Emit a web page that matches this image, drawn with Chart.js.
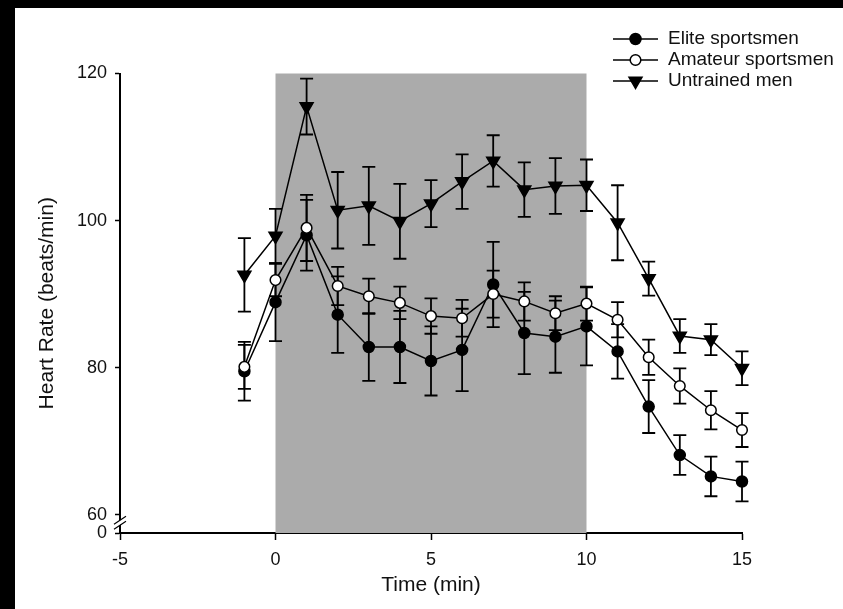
<!DOCTYPE html>
<html>
<head>
<meta charset="utf-8">
<script src="https://cdn.jsdelivr.net/npm/chart.js@4/dist/chart.umd.min.js"></script>
<style>
  html, body { margin: 0; padding: 0; background: #000; overflow: hidden; }
  #wrap { position: absolute; left: 15px; top: 8px; width: 828px; height: 601px; background: #fff; overflow: hidden; }
  #chart { display: block; }
</style>
</head>
<body>
<div id="wrap"><canvas id="chart" width="828" height="601"></canvas></div>
<script>
// time points (min), exercise runs from 0 to 10
const times = [-1, 0, 1, 2, 3, 4, 5, 6, 7, 8, 9, 10, 11, 12, 13, 14, 15]

const eliteMean = [79.5, 88.9, 98.0, 87.2, 82.8, 82.8, 80.9, 82.4, 91.3, 84.7, 84.2, 85.6, 82.2, 74.7, 68.1, 65.2, 64.5]
const eliteErr = [4.0, 5.3, 4.8, 5.2, 4.6, 4.9, 4.7, 5.6, 5.8, 5.6, 4.9, 5.3, 3.7, 3.6, 2.7, 2.7, 2.7]

const amateurMean = [80.1, 91.9, 99.0, 91.1, 89.7, 88.8, 87.0, 86.7, 90.0, 89.0, 87.4, 88.7, 86.5, 81.4, 77.5, 74.2, 71.5]
const amateurErr = [3.0, 2.2, 4.5, 2.6, 2.4, 2.2, 2.4, 2.5, 3.2, 2.6, 2.3, 2.3, 2.4, 2.4, 2.4, 2.6, 2.3]

const untrainedMean = [92.6, 97.9, 115.5, 101.4, 102.0, 99.9, 102.3, 105.3, 108.1, 104.2, 104.7, 104.8, 99.7, 92.1, 84.3, 83.8, 79.9]
const untrainedErr = [5.0, 3.7, 3.8, 5.2, 5.3, 5.1, 3.2, 3.7, 3.5, 3.7, 3.8, 3.5, 5.1, 2.3, 2.3, 2.1, 2.3]

const seriesNames = ['Elite sportsmen', 'Amateur sportsmen', 'Untrained men']

const xTicks = [-5, 0, 5, 10, 15]
// y axis is broken: the bottom tick stands for 0
const yTicks = [57.5, 60, 80, 100, 120]
const yTickLabels = ['0', '60', '80', '100', '120']

const exerciseStart = 0
const exerciseEnd = 10

Chart.defaults.font.family = '"Liberation Sans", Arial, sans-serif'
Chart.defaults.color = '#111'

function toPoints(means) {
    return times.map((t, i) => ({x: t, y: means[i]}))
}

function drawMarker(ctx, style, x, y) {
    ctx.save()
    ctx.lineWidth = 1.5
    ctx.strokeStyle = '#000'
    ctx.fillStyle = style.fill
    ctx.beginPath()
    if (style.shape === 'triangle') {
        const r = style.radius
        ctx.moveTo(x, y + r)
        ctx.lineTo(x - r * 0.866, y - r * 0.5)
        ctx.lineTo(x + r * 0.866, y - r * 0.5)
        ctx.closePath()
    } else {
        ctx.arc(x, y, style.radius, 0, Math.PI * 2)
    }
    ctx.fill()
    ctx.stroke()
    ctx.restore()
}

const markerStyles = [
    {shape: 'circle', fill: '#000', radius: 5.5},
    {shape: 'circle', fill: '#fff', radius: 5.3},
    {shape: 'triangle', fill: '#000', radius: 7.5}
]

// grey band for the exercise period
const shadePlugin = {
    id: 'shade',
    beforeDatasetsDraw(chart) {
        const {ctx, chartArea, scales: {x, y}} = chart
        const x0 = x.getPixelForValue(exerciseStart)
        const x1 = x.getPixelForValue(exerciseEnd)
        const top = y.getPixelForValue(120)
        ctx.save()
        ctx.fillStyle = '#ababab'
        ctx.fillRect(x0, top, x1 - x0, chartArea.bottom - top)
        ctx.restore()
    }
}

const errorBarPlugin = {
    id: 'errorBars',
    beforeDatasetsDraw(chart) {
        const {ctx, scales: {x, y}} = chart
        ctx.save()
        ctx.strokeStyle = '#000'
        ctx.lineWidth = 1.8
        chart.data.datasets.forEach(ds => {
            ds.data.forEach((p, i) => {
                const px = x.getPixelForValue(p.x)
                const top = y.getPixelForValue(p.y + ds.errors[i])
                const bot = y.getPixelForValue(p.y - ds.errors[i])
                ctx.beginPath()
                ctx.moveTo(px, top)
                ctx.lineTo(px, bot)
                ctx.moveTo(px - 6.5, top)
                ctx.lineTo(px + 6.5, top)
                ctx.moveTo(px - 6.5, bot)
                ctx.lineTo(px + 6.5, bot)
                ctx.stroke()
            })
        })
        ctx.restore()
    }
}

// markers drawn by hand so the triangle points down
const markerPlugin = {
    id: 'markers',
    afterDatasetsDraw(chart) {
        const {ctx, scales: {x, y}} = chart
        chart.data.datasets.forEach((ds, k) => {
            ds.data.forEach(p => {
                drawMarker(ctx, markerStyles[k], x.getPixelForValue(p.x), y.getPixelForValue(p.y))
            })
        })
    }
}

const axisBreakPlugin = {
    id: 'axisBreak',
    afterDraw(chart) {
        const {ctx, chartArea, scales: {y}} = chart
        const ax = chartArea.left
        const yc = y.getPixelForValue(58.9)
        ctx.save()
        ctx.strokeStyle = '#fff'
        ctx.lineWidth = 4
        ctx.beginPath()
        ctx.moveTo(ax - 6, yc + 4)
        ctx.lineTo(ax + 6, yc - 4)
        ctx.stroke()
        ctx.strokeStyle = '#000'
        ctx.lineWidth = 1.2
        ctx.beginPath()
        ctx.moveTo(ax - 6, yc + 1.5)
        ctx.lineTo(ax + 6, yc - 6.5)
        ctx.moveTo(ax - 6, yc + 6.5)
        ctx.lineTo(ax + 6, yc - 1.5)
        ctx.stroke()
        ctx.restore()
    }
}

const legendPlugin = {
    id: 'sideLegend',
    afterDraw(chart) {
        const ctx = chart.ctx
        ctx.save()
        ctx.font = '19px "Liberation Sans", Arial, sans-serif'
        ctx.textBaseline = 'middle'
        chart.data.datasets.forEach((ds, k) => {
            const ly = 31 + k * 21
            ctx.strokeStyle = '#000'
            ctx.lineWidth = 1.5
            ctx.beginPath()
            ctx.moveTo(598, ly)
            ctx.lineTo(643, ly)
            ctx.stroke()
            drawMarker(ctx, markerStyles[k], 620.5, ly)
            ctx.fillStyle = '#111'
            ctx.fillText(ds.label, 653, ly)
        })
        ctx.restore()
    }
}

function makeDataset(label, means, errs) {
    return {
        label: label,
        data: toPoints(means),
        errors: errs,
        borderColor: '#000',
        borderWidth: 1.5,
        pointRadius: 0,
        fill: false,
        tension: 0
    }
}

new Chart(document.getElementById('chart'), {
    type: 'line',
    data: {
        datasets: [
            makeDataset(seriesNames[0], eliteMean, eliteErr),
            makeDataset(seriesNames[1], amateurMean, amateurErr),
            makeDataset(seriesNames[2], untrainedMean, untrainedErr)
        ]
    },
    options: {
        responsive: false,
        animation: false,
        devicePixelRatio: 1,
        layout: {padding: {top: 65.5, right: 101, bottom: 0, left: 0}},
        plugins: {legend: {display: false}, tooltip: {enabled: false}},
        scales: {
            x: {
                type: 'linear',
                min: -5,
                max: 15,
                afterBuildTicks: scale => { scale.ticks = xTicks.map(v => ({value: v})) },
                afterFit: scale => { scale.height = 76 },
                border: {display: true, color: '#000', width: 2},
                grid: {drawOnChartArea: false, drawTicks: true, tickLength: 7, tickColor: '#000', tickWidth: 1.5},
                ticks: {font: {size: 18}, padding: 9, maxRotation: 0, callback: v => v},
                title: {display: true, text: 'Time (min)', font: {size: 21}, padding: {top: 0, bottom: 11}}
            },
            y: {
                type: 'linear',
                min: 57.5,
                max: 120,
                afterBuildTicks: scale => { scale.ticks = yTicks.map(v => ({value: v})) },
                afterFit: scale => { scale.width = 105 },
                border: {display: true, color: '#000', width: 2},
                grid: {drawOnChartArea: false, drawTicks: true, tickLength: 5, tickColor: '#000', tickWidth: 1.5},
                ticks: {font: {size: 18}, padding: 8, callback: (v, i) => yTickLabels[i]},
                title: {display: true, text: 'Heart Rate (beats/min)', font: {size: 21}, padding: {top: 20, bottom: 0}}
            }
        }
    },
    plugins: [shadePlugin, errorBarPlugin, markerPlugin, axisBreakPlugin, legendPlugin]
})
</script>
</body>
</html>
